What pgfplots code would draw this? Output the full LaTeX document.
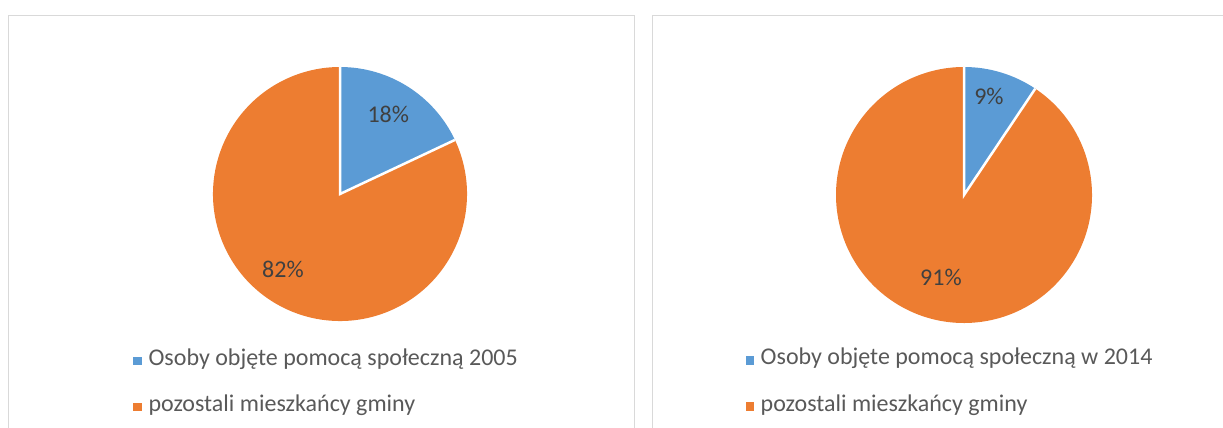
\documentclass[border=0pt]{standalone}
\usepackage{pgfplots}
\pgfplotsset{compat=1.18}
\usepackage{pgfplotstable}
\usepackage{fontspec}
\setmainfont{Carlito}
\definecolor{pieblue}{HTML}{5B9BD5}
\definecolor{pieorange}{HTML}{ED7D31}
\definecolor{labelgray}{HTML}{404040}
\definecolor{legendgray}{HTML}{595959}
\definecolor{framegray}{HTML}{D9D9D9}
\pgfplotstableread{
group value
pomoc 18
pozostali 82
}\dataA
\pgfplotstableread{
group value
pomoc 9.4
pozostali 90.6
}\dataB
\pgfplotsset{
  pieaxis/.style={hide axis, scale only axis, anchor=center, clip=false,
    xmin=-1, xmax=1, ymin=-1, ymax=1,
    legend style={draw=none, fill=none, inner sep=0pt, row sep=24pt,
      font=\fontsize{24}{29}\selectfont, text=legendgray,
      cells={anchor=west}, anchor=north west},
    legend cell align=left,
    legend image code/.code={\path (0pt,-10pt) (13pt,10pt);\fill[##1, draw=none] (0pt,-7.5pt) rectangle (8.5pt,1pt);}},
}
\begin{document}
\begin{tikzpicture}
\pgfplotstablegetelem{0}{value}\of\dataA \let\vA\pgfplotsretval
\pgfplotstablegetelem{0}{value}\of\dataB \let\vB\pgfplotsretval
\pgfmathsetmacro\angA{90-3.6*\vA}
\pgfmathsetmacro\angB{90-3.6*\vB}
% frames
\draw[framegray, line width=1.5pt] (8.5pt,-30pt) -- (8.5pt,412.5pt) -- (634.5pt,412.5pt) -- (634.5pt,-30pt);
\draw[framegray, line width=1.5pt] (652.5pt,-30pt) -- (652.5pt,412.5pt) -- (1260pt,412.5pt);
% left pie
\begin{axis}[pieaxis, width=254pt, height=254pt, at={(340pt,234pt)},
  legend style={at={(-0.315,-0.1)}}]
\addlegendimage{fill=pieblue}
\addlegendentry{Osoby objęte pomocą społeczną 2005}
\addlegendimage{fill=pieorange}
\addlegendentry{pozostali mieszkańcy gminy}
\fill[pieblue] (axis cs:0,0) -- (axis cs:0,1) arc[start angle=90, end angle=\angA, radius=127pt] -- cycle;
\fill[pieorange] (axis cs:0,0) -- (axis cs:{cos(\angA)},{sin(\angA)}) arc[start angle=\angA, end angle=-270, radius=127pt] -- cycle;
\draw[white, line width=2.5pt] (axis cs:0,1) -- (axis cs:0,0) -- (axis cs:{cos(\angA)},{sin(\angA)});
\node[text=labelgray, font=\fontsize{24}{29}\selectfont] at (axis cs:0.38,0.63) {18\%};
\node[text=labelgray, font=\fontsize{24}{29}\selectfont] at (axis cs:-0.449,-0.591) {82\%};
\end{axis}
% right pie
\begin{axis}[pieaxis, width=256pt, height=256pt, at={(964pt,233pt)},
  legend style={at={(-0.355,-0.09)}}]
\addlegendimage{fill=pieblue}
\addlegendentry{Osoby objęte pomocą społeczną w 2014}
\addlegendimage{fill=pieorange}
\addlegendentry{pozostali mieszkańcy gminy}
\fill[pieblue] (axis cs:0,0) -- (axis cs:0,1) arc[start angle=90, end angle=\angB, radius=128pt] -- cycle;
\fill[pieorange] (axis cs:0,0) -- (axis cs:{cos(\angB)},{sin(\angB)}) arc[start angle=\angB, end angle=-270, radius=128pt] -- cycle;
\draw[white, line width=2.5pt] (axis cs:0,1) -- (axis cs:0,0) -- (axis cs:{cos(\angB)},{sin(\angB)});
\node[text=labelgray, font=\fontsize{24}{29}\selectfont] at (axis cs:0.195,0.77) {9\%};
\node[text=labelgray, font=\fontsize{24}{29}\selectfont] at (axis cs:-0.18,-0.64) {91\%};
\end{axis}
\pgfresetboundingbox
\path[use as bounding box] (0pt,0pt) rectangle (1223pt,428pt);
\end{tikzpicture}
\end{document}
